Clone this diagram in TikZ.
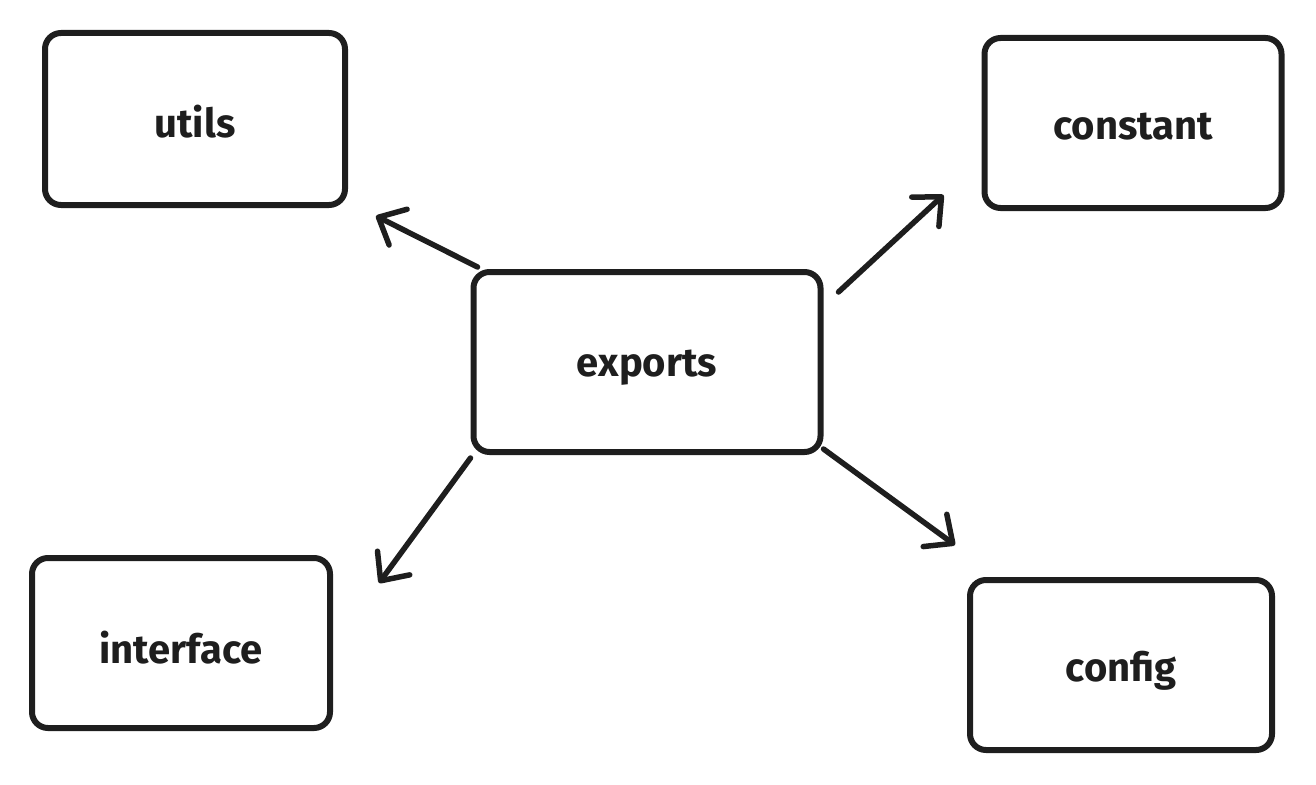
\documentclass[tikz,border=0pt]{standalone}
\usepackage{fontspec}
\setmainfont{Fira Sans}
\usetikzlibrary{arrows.meta,calc}
\definecolor{ink}{HTML}{1E1E1E}
\begin{document}
\begin{tikzpicture}[x=1pt,y=-1pt,
  box/.style={draw=ink,line width=6pt,rounded corners=16pt,inner sep=0pt,
    font=\fontsize{40}{46}\selectfont\bfseries,text=ink},
  lbl/.style={font=\fontsize{40}{46}\selectfont\bfseries,text=ink,inner sep=0pt},
  conn/.style={draw=ink,line width=5.5pt,line cap=round,
    -{Straight Barb[length=22pt,width=40pt,line width=5.5pt,round]}}]
\useasboundingbox (0,0) rectangle (1316,784);
\node[box,minimum width=300pt,minimum height=172pt] (utils) at (195,119) {};
\node[box,minimum width=297pt,minimum height=170pt] (constant) at (1133,123) {};
\node[box,minimum width=347pt,minimum height=180pt] (exports) at (647,362) {};
\node[box,minimum width=298pt,minimum height=170pt] (interface) at (181,643) {};
\node[box,minimum width=302pt,minimum height=170pt] (config) at (1121,665) {};
\node[lbl] (tutils) at ($(utils)+(0,3)$) {utils};
\node[lbl] (tconstant) at ($(constant)+(0,4)$) {constant};
\node[lbl] (texports) at ($(exports)+(0,6)$) {exports};
\node[lbl] (tinterface) at ($(interface)+(0,5)$) {interface};
\node[lbl] (tconfig) at ($(config)+(0,6)$) {config};
\draw[conn] ($(exports.north west)+(7,-2)$) -- ($(utils.south east)+(28,8)$);
\draw[conn] ($(exports.north east)+(15,23)$) -- ($(constant.south west)+(-38,-16)$);
\draw[conn] ($(exports.south west)+(0,3)$) -- ($(interface.north west)+(350,28)$);
\draw[conn] ($(exports.south east)+(0,-6)$) -- ($(config.north west)+(-12,-32)$);
\end{tikzpicture}
\end{document}
